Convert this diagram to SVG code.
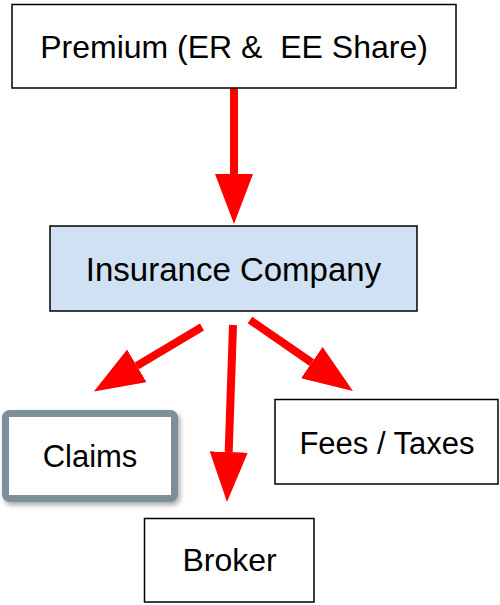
<svg xmlns="http://www.w3.org/2000/svg" width="500" height="605" viewBox="0 0 500 605">
  <style>
    .box { fill: #ffffff; stroke: #000000; stroke-width: 1.5; }
    .lbl { font-family: "Liberation Sans", Arial, sans-serif; fill: #000000; text-anchor: middle; }
    .conn { stroke: #ff0000; stroke-width: 8; fill: none; marker-end: url(#head); }
  </style>
  <defs>
    <marker id="head" viewBox="0 0 50 38" markerWidth="50" markerHeight="38" refX="0" refY="19" orient="auto" markerUnits="userSpaceOnUse">
      <path d="M0,0 L50,19 L0,38 Z" fill="#ff0000"/>
    </marker>
    <filter id="shadow" x="-10%" y="-10%" width="130%" height="140%">
      <feDropShadow dx="2" dy="3" stdDeviation="2.5" flood-color="#000000" flood-opacity="0.35"/>
    </filter>
  </defs>

  <g id="connectors">
    <line class="conn" x1="234" y1="88" x2="234" y2="174"/>
    <line class="conn" x1="202" y1="327" x2="136.8" y2="365.9"/>
    <line class="conn" x1="233" y1="325" x2="228.7" y2="452"/>
    <line class="conn" x1="250" y1="320" x2="311.8" y2="362.6"/>
  </g>

  <g id="premium">
    <rect class="box" x="12" y="4.5" width="444" height="83.5"/>
    <text class="lbl" x="234" y="58" font-size="32" style="white-space:pre">Premium (ER &amp;  EE Share)</text>
  </g>

  <g id="insurance">
    <rect x="50" y="226" width="367" height="85" fill="#cfe1f2" stroke="#000000" stroke-width="1.5"/>
    <text class="lbl" x="233.5" y="281" font-size="33">Insurance Company</text>
  </g>

  <g id="claims">
    <rect x="5.5" y="413.5" width="169" height="85" rx="4" fill="#ffffff" stroke="#7b8f9a" stroke-width="7" filter="url(#shadow)"/>
    <text class="lbl" x="90" y="467" font-size="31">Claims</text>
  </g>

  <g id="fees">
    <rect class="box" x="275" y="399.5" width="223" height="84.5"/>
    <text class="lbl" x="387" y="454" font-size="31">Fees / Taxes</text>
  </g>

  <g id="broker">
    <rect class="box" x="144.5" y="518.5" width="169.5" height="83.5"/>
    <text class="lbl" x="229.5" y="571" font-size="32">Broker</text>
  </g>
</svg>
